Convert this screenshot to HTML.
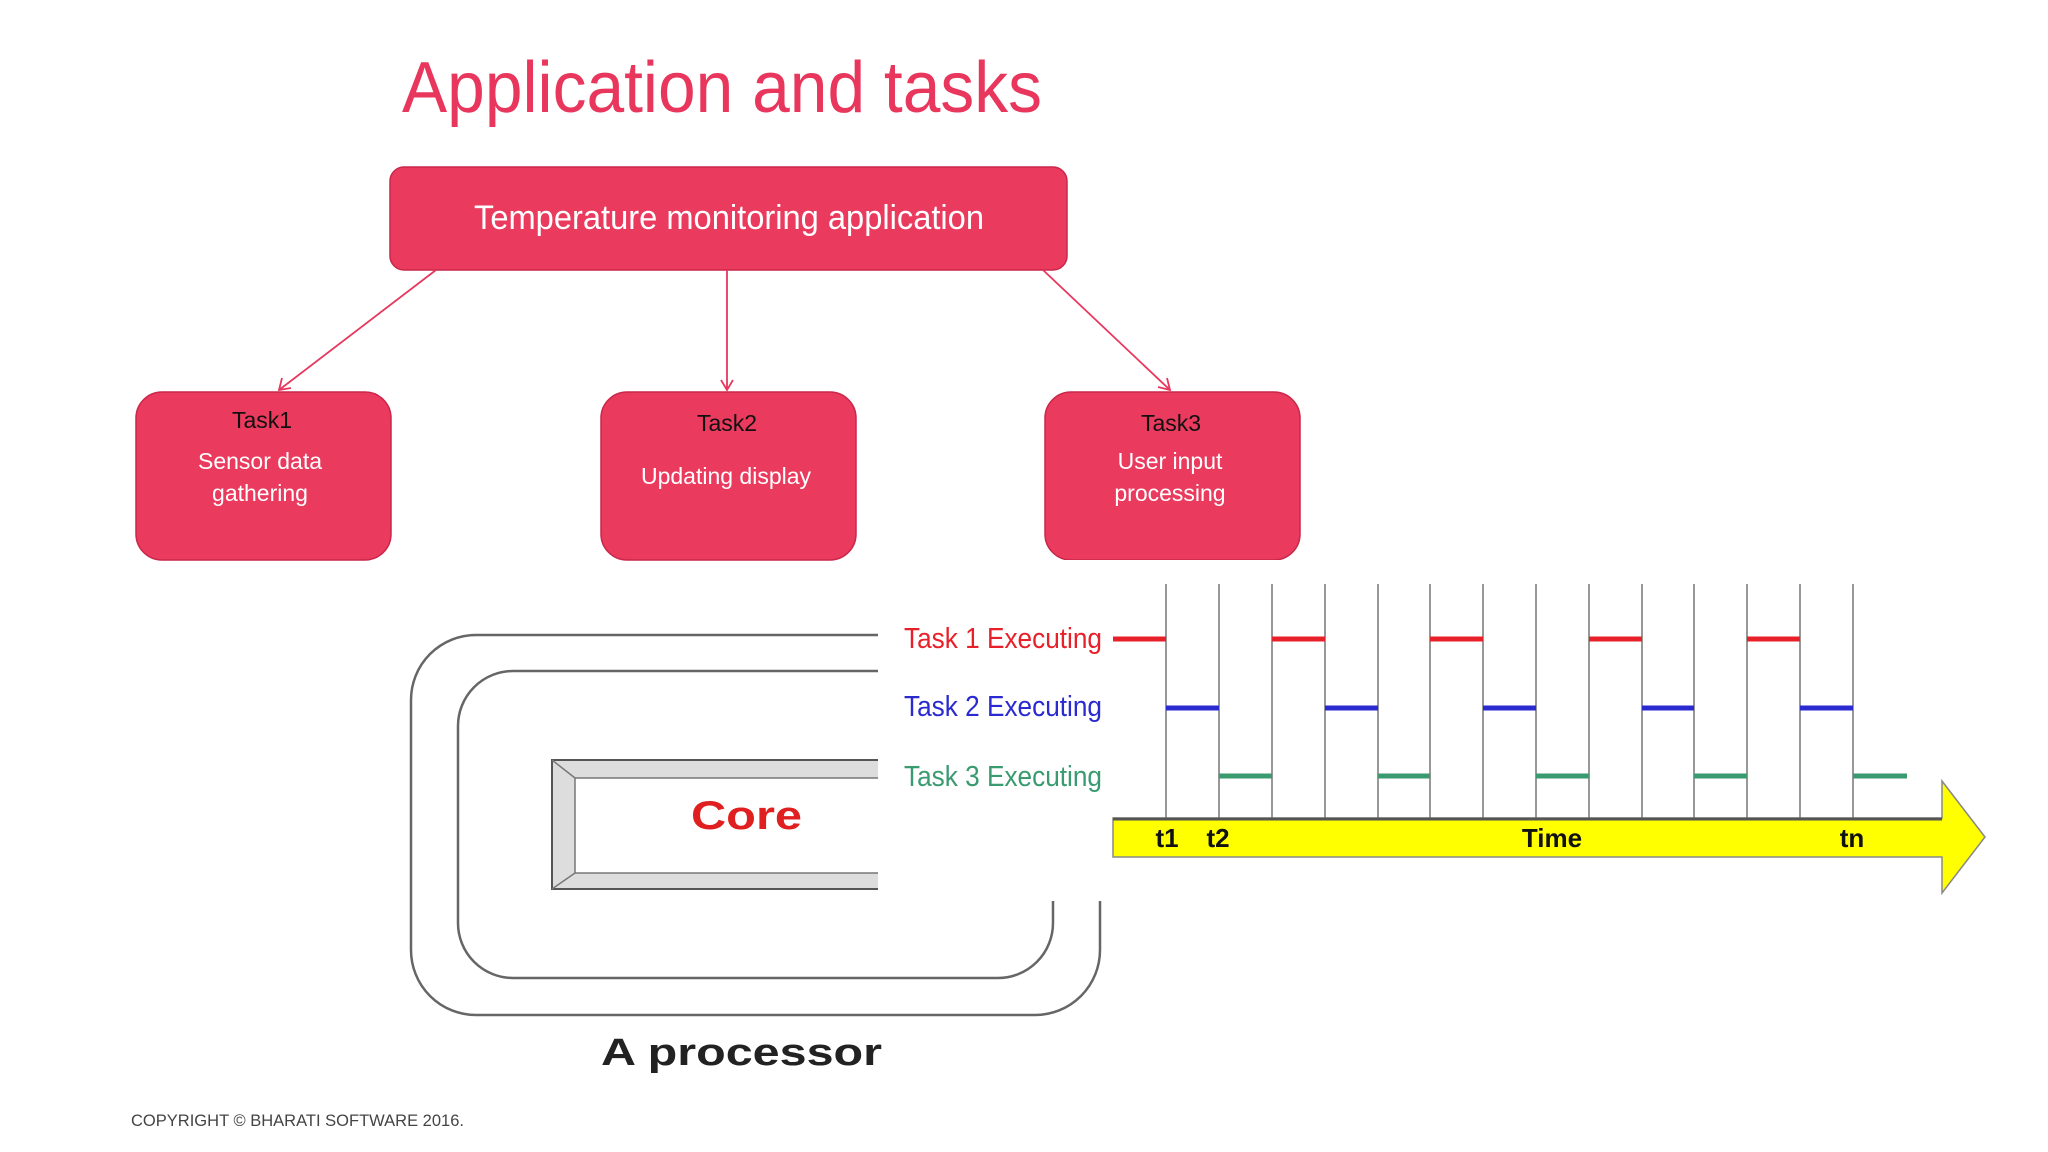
<!DOCTYPE html>
<html><head><meta charset="utf-8"><style>
body{margin:0;width:2048px;height:1152px;background:#fff;overflow:hidden;font-family:"Liberation Sans",sans-serif}
</style></head><body>
<svg width="2048" height="1152" viewBox="0 0 2048 1152" xmlns="http://www.w3.org/2000/svg" style="position:absolute;left:0;top:0">
<text x="402" y="112" font-family="Liberation Sans" font-size="72" fill="#e8365d" textLength="640" lengthAdjust="spacingAndGlyphs">Application and tasks</text>
<rect x="390" y="167" width="677" height="103" rx="14" fill="#ea3a5e" stroke="#c9264a" stroke-width="1.5"/>
<text x="729" y="229" text-anchor="middle" font-family="Liberation Sans Narrow, Liberation Sans" font-size="34" fill="#fff" textLength="510" lengthAdjust="spacingAndGlyphs">Temperature monitoring application</text>
<g fill="#ea3a5e" stroke="#c9264a" stroke-width="1.5">
<rect x="136" y="392" width="255" height="168" rx="26"/>
<rect x="601" y="392" width="255" height="168" rx="26"/>
<rect x="1045" y="392" width="255" height="168" rx="26"/>
</g>
<g stroke="#e8365d" stroke-width="1.8" fill="none">
<line x1="436" y1="270" x2="279" y2="390"/><polyline points="282,378 279,390 291,388"/>
<line x1="727" y1="270" x2="727" y2="390"/><polyline points="721,380 727,390 733,380"/>
<line x1="1043" y1="270" x2="1170" y2="390"/><polyline points="1158,387 1170,390 1167,378"/>
</g>
<g font-family="Liberation Sans Narrow, Liberation Sans" font-size="23" text-anchor="middle">
<text x="262" y="428" fill="#111">Task1</text>
<text x="260" y="469" fill="#fff">Sensor data</text>
<text x="260" y="501" fill="#fff">gathering</text>
<text x="727" y="431" fill="#111">Task2</text>
<text x="726" y="484" fill="#fff">Updating display</text>
<text x="1171" y="431" fill="#111">Task3</text>
<text x="1170" y="469" fill="#fff">User input</text>
<text x="1170" y="501" fill="#fff">processing</text>
</g>
<g fill="none" stroke="#666" stroke-width="2.5">
<rect x="411" y="635" width="689" height="380" rx="65"/>
<rect x="458" y="671" width="595" height="307" rx="55"/>
</g>
<rect x="552" y="760" width="360" height="129" fill="#ddd" stroke="#555" stroke-width="2"/>
<rect x="575" y="778" width="337" height="95" fill="#fff" stroke="#777" stroke-width="1.5"/>
<line x1="552" y1="760" x2="575" y2="778" stroke="#777" stroke-width="1.5"/>
<line x1="552" y1="889" x2="575" y2="873" stroke="#777" stroke-width="1.5"/>
<text x="691" y="829" font-size="40" font-weight="bold" fill="#e02020" textLength="111" lengthAdjust="spacingAndGlyphs">Core</text>
<text x="601" y="1065" font-size="38" font-weight="bold" fill="#222" textLength="281" lengthAdjust="spacingAndGlyphs">A processor</text>
<rect x="878" y="560" width="1160" height="341" fill="#fff"/>
<g stroke="#777" stroke-width="1.5">
<line x1="1166" y1="584" x2="1166" y2="820"/><line x1="1219" y1="584" x2="1219" y2="820"/><line x1="1272" y1="584" x2="1272" y2="820"/><line x1="1325" y1="584" x2="1325" y2="820"/><line x1="1378" y1="584" x2="1378" y2="820"/><line x1="1430" y1="584" x2="1430" y2="820"/><line x1="1483" y1="584" x2="1483" y2="820"/><line x1="1536" y1="584" x2="1536" y2="820"/><line x1="1589" y1="584" x2="1589" y2="820"/><line x1="1642" y1="584" x2="1642" y2="820"/><line x1="1694" y1="584" x2="1694" y2="820"/><line x1="1747" y1="584" x2="1747" y2="820"/><line x1="1800" y1="584" x2="1800" y2="820"/><line x1="1853" y1="584" x2="1853" y2="820"/>
</g>
<g stroke-width="5">
<g stroke="#e8202a"><line x1="1113" y1="639" x2="1166" y2="639"/><line x1="1272" y1="639" x2="1325" y2="639"/><line x1="1430" y1="639" x2="1483" y2="639"/><line x1="1589" y1="639" x2="1642" y2="639"/><line x1="1747" y1="639" x2="1800" y2="639"/></g>
<g stroke="#2a2ad0"><line x1="1166" y1="708" x2="1219" y2="708"/><line x1="1325" y1="708" x2="1378" y2="708"/><line x1="1483" y1="708" x2="1536" y2="708"/><line x1="1642" y1="708" x2="1694" y2="708"/><line x1="1800" y1="708" x2="1853" y2="708"/></g>
<g stroke="#3a9a70"><line x1="1219" y1="776" x2="1272" y2="776"/><line x1="1378" y1="776" x2="1430" y2="776"/><line x1="1536" y1="776" x2="1589" y2="776"/><line x1="1694" y1="776" x2="1747" y2="776"/><line x1="1853" y1="776" x2="1907" y2="776"/></g>
</g>
<g font-family="Liberation Sans Narrow, Liberation Sans" font-size="29">
<text x="904" y="648" fill="#e8202a" textLength="198" lengthAdjust="spacingAndGlyphs">Task 1 Executing</text>
<text x="904" y="716" fill="#2a2ad0" textLength="198" lengthAdjust="spacingAndGlyphs">Task 2 Executing</text>
<text x="904" y="786" fill="#3a9a70" textLength="198" lengthAdjust="spacingAndGlyphs">Task 3 Executing</text>
</g>
<polygon points="1113,818 1942,818 1942,781 1985,837 1942,893 1942,857 1113,857" fill="#ffff00" stroke="#888" stroke-width="1.5"/>
<line x1="1113" y1="819" x2="1942" y2="819" stroke="#555" stroke-width="3"/>
<g font-family="Liberation Sans Narrow, Liberation Sans" font-size="26" font-weight="bold" fill="#111" text-anchor="middle">
<text x="1167" y="847">t1</text><text x="1218" y="847">t2</text><text x="1552" y="847">Time</text><text x="1852" y="847">tn</text>
</g>
<text x="131" y="1126" font-size="17" fill="#444" textLength="333" lengthAdjust="spacingAndGlyphs">COPYRIGHT © BHARATI SOFTWARE 2016.</text>
</svg>
</body></html>
